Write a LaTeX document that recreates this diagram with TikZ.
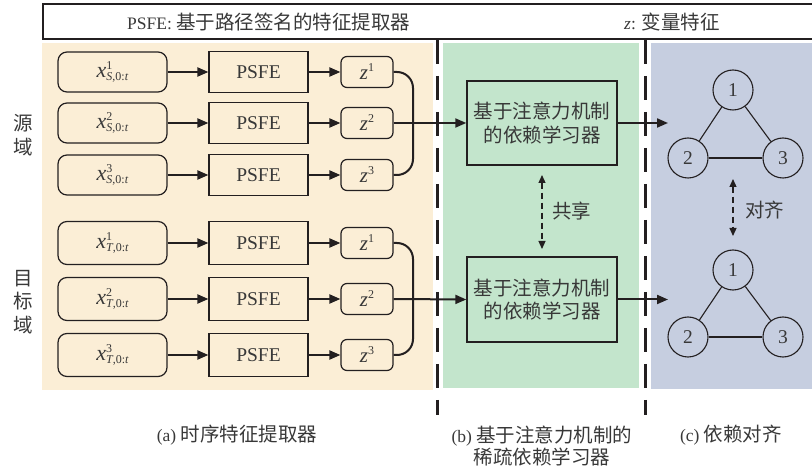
\documentclass[tikz,border=0pt]{standalone}
\usepackage{fontspec}
\setmainfont{Liberation Serif}
\newfontfamily\cjk{Noto Sans CJK SC}
\usetikzlibrary{arrows.meta}
\definecolor{beige}{HTML}{FBEED6}
\definecolor{pgreen}{HTML}{C3E5CC}
\definecolor{pblue}{HTML}{C6CEE0}
\definecolor{ink}{HTML}{231F20}
\definecolor{txt}{HTML}{383838}
\newcommand\xin[2]{\textit{x}\makebox[0pt][l]{\raisebox{8pt}{\fontsize{12}{12}\selectfont #1}}\raisebox{-2.5pt}{\fontsize{12}{12}\selectfont\textit{#2},0:\textit{t}}}
\newcommand\zin[1]{\textit{z}\raisebox{8pt}{\fontsize{12}{12}\selectfont #1}}
\newcommand\cj{\cjk\fontsize{19.5}{23.5}\selectfont}
\begin{document}
\begin{tikzpicture}[x=1pt,y=-1pt,
  every node/.style={text=txt},
  inbox/.style={draw=ink, line width=1.2pt, rounded corners=9pt, minimum width=109pt, minimum height=40pt, inner sep=0pt, font=\fontsize{22}{22}\selectfont},
  inboxT/.style={inbox, minimum height=43pt},
  psfe/.style={draw=ink, line width=1.2pt, minimum width=99pt, minimum height=41pt, inner sep=0pt, font=\fontsize{19.5}{20}\selectfont},
  psfeT/.style={psfe, minimum height=43pt},
  zbox/.style={draw=ink, line width=1.2pt, rounded corners=6pt, minimum width=52pt, minimum height=31pt, inner sep=0pt, font=\fontsize{21}{21}\selectfont},
  lbox/.style={draw=ink, line width=1.4pt, minimum width=150pt, minimum height=84pt, inner sep=0pt, align=center, font=\cj},
  vnode/.style={circle, draw=ink, line width=1.1pt, minimum size=40pt, inner sep=0pt, font=\fontsize{19.5}{20}\selectfont},
  flow/.style={draw=ink, line width=2pt, -{Triangle[length=11pt,width=9pt]}},
  bracketline/.style={draw=ink, line width=2pt, rounded corners=16pt},
  gedge/.style={draw=ink, line width=1.1pt},
  dflow/.style={draw=ink, line width=1.2pt, dash pattern=on 6pt off 4pt, {Triangle[length=8pt,width=7pt]}-{Triangle[length=8pt,width=7pt]}},
  sepline/.style={draw=ink, line width=3pt, dash pattern=on 24pt off 12pt},
  captxt/.style={align=center, font=\fontsize{17.5}{22}\selectfont},
]
\useasboundingbox (0,0) rectangle (812,470);
% panels
\fill[beige] (42,43) rectangle (433,390);
\fill[pgreen] (443,43) rectangle (639,388);
\fill[pblue] (651,43) rectangle (812,389);
% legend box
\draw[ink, line width=1.2pt] (813,4) -- (43,4) -- (43,39) -- (813,39);
\node[anchor=west, inner sep=0pt, font=\fontsize{17.5}{20}\selectfont] (leg1) at (127,22) {PSFE: {\cj 基于路径签名的特征提取器}};
\node[anchor=west, inner sep=0pt, font=\fontsize{17.5}{20}\selectfont] (leg2) at (624,22) {\textit{z}: {\cj 变量特征}};
% separators
\coordinate (sepAt) at (437.5,40);
\coordinate (sepAb) at (437.5,415);
\coordinate (sepBt) at (645,40);
\coordinate (sepBb) at (645,415);
\draw[sepline] (sepAt) -- (sepAb);
\draw[sepline] (sepBt) -- (sepBb);
% side labels
\node[align=center, font=\cj, inner sep=0pt] (srcl) at (23,135) {源\\域};
\node[align=center, font=\cj, inner sep=0pt] (tgtl) at (23,302) {目\\标\\域};
% source rows
\node[inbox] (s1x) at (112.5,72) {\xin{1}{S}};
\node[inbox] (s2x) at (112.5,123) {\xin{2}{S}};
\node[inbox] (s3x) at (112.5,175) {\xin{3}{S}};
\node[psfe] (s1p) at (258.5,72) {PSFE};
\node[psfe] (s2p) at (258.5,123) {PSFE};
\node[psfe] (s3p) at (258.5,175) {PSFE};
\node[zbox] (s1z) at (367,72) {\zin{1}};
\node[zbox] (s2z) at (367,123) {\zin{2}};
\node[zbox] (s3z) at (367,175) {\zin{3}};
% target rows
\node[inboxT] (t1x) at (112.5,243) {\xin{1}{T}};
\node[inboxT] (t2x) at (112.5,299) {\xin{2}{T}};
\node[inboxT] (t3x) at (112.5,355) {\xin{3}{T}};
\node[psfeT] (t1p) at (258.5,243) {PSFE};
\node[psfeT] (t2p) at (258.5,299) {PSFE};
\node[psfeT] (t3p) at (258.5,355) {PSFE};
\node[zbox] (t1z) at (367,243) {\zin{1}};
\node[zbox] (t2z) at (367,299) {\zin{2}};
\node[zbox] (t3z) at (367,355) {\zin{3}};
\foreach \r in {s1,s2,s3,t1,t2,t3}{
  \draw[flow] (\r x.east) -- (\r p.west);
  \draw[flow] (\r p.east) -- (\r z.west);
}
% learners
\node[lbox] (sL) at (542,123) {基于注意力机制\\的依赖学习器};
\node[lbox, minimum height=85pt] (tL) at (542,299.5) {基于注意力机制\\的依赖学习器};
\coordinate (sB) at (413,123);
\coordinate (tB) at (413,299);
\draw[bracketline] (s1z.east) -| (sB) |- (s3z.east);
\draw[bracketline] (t1z.east) -| (tB) |- (t3z.east);
\draw[flow] (s2z.east) -- (sL.west);
\draw[flow] (t2z.east) -- (tL.west);
\coordinate (sOut) at (668,123);
\coordinate (tOut) at (668,299.5);
\draw[flow] (sL.east) -- (sOut);
\draw[flow] (tL.east) -- (tOut);
% graphs
\node[vnode] (a1) at (733,90) {1};
\node[vnode] (a2) at (688,158) {2};
\node[vnode] (a3) at (783,158) {3};
\node[vnode] (b1) at (733,270) {1};
\node[vnode] (b2) at (688,337) {2};
\node[vnode] (b3) at (783,337) {3};
\draw[gedge] (a1) -- (a2);
\draw[gedge] (a1) -- (a3);
\draw[gedge] (a2) -- (a3);
\draw[gedge] (b1) -- (b2);
\draw[gedge] (b1) -- (b3);
\draw[gedge] (b2) -- (b3);
% shared / align
\coordinate (shT) at (542,175);
\coordinate (shB) at (542,249);
\draw[dflow] (shT) -- (shB);
\node[anchor=west, font=\cj, inner sep=0pt] (shl) at (552,211) {共享};
\coordinate (alT) at (733,179);
\coordinate (alB) at (733,236);
\draw[dflow] (alT) -- (alB);
\node[anchor=west, font=\cj, inner sep=0pt] (all) at (745,210) {对齐};
% captions
\node[captxt] (capa) at (237,435) {(a) {\cj 时序特征提取器}};
\node[captxt] (capb) at (542,446) {(b) {\cj 基于注意力机制的}\\{\cj 稀疏依赖学习器}};
\node[captxt] (capc) at (731,435) {(c) {\cj 依赖对齐}};
\end{tikzpicture}
\end{document}
